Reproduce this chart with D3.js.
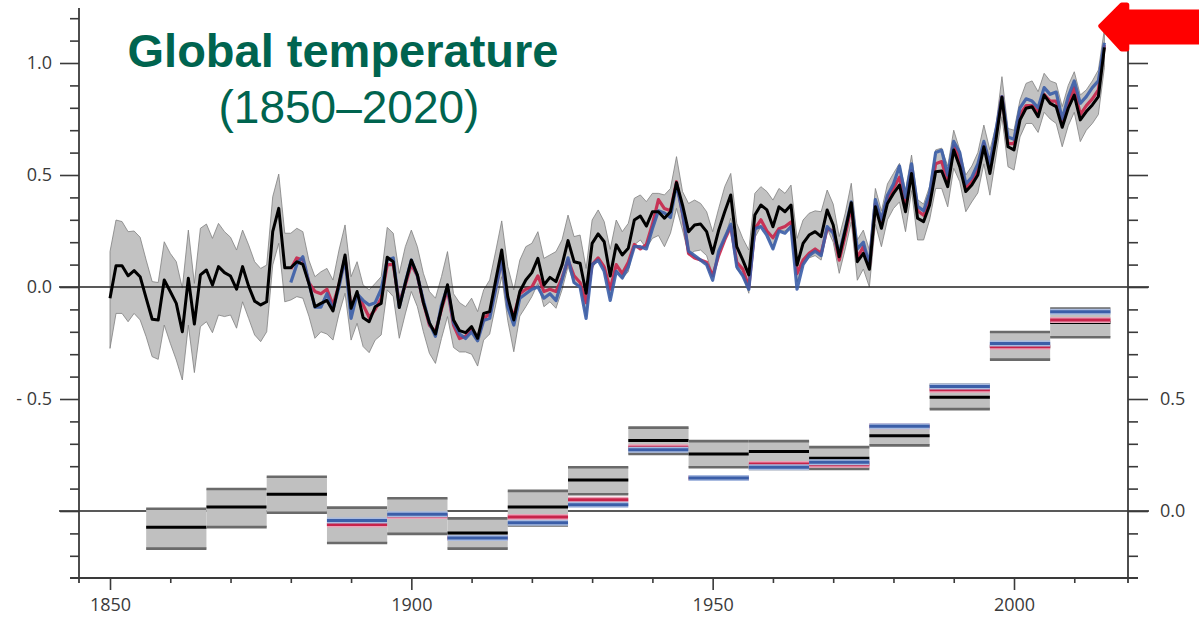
<!DOCTYPE html>
<html>
<head>
<meta charset="utf-8">
<script src="https://cdnjs.cloudflare.com/ajax/libs/d3/7.8.5/d3.min.js"></script>
<style>
body { margin: 0; background: #fff; }
svg { display: block; }
.axis text { font-family: "Open Sans", sans-serif; font-size: 18px; fill: #3a3a3a; }
.axis line { stroke: #3a3a3a; stroke-width: 1.6; }
</style>
</head>
<body>
<svg id="chart" width="1199" height="619"></svg>
<script>
// annual anomaly (black record) from 1850, one value per year
var firstYear = 1850;
var hadcrut = [
  -0.05, 0.095, 0.095, 0.05, 0.073, 0.046, -0.05, -0.144, -0.147, 0.031,
  -0.02, -0.073, -0.2, 0.039, -0.165, 0.054, 0.076, 0.009, 0.091, 0.064,
  0.049, -0.01, 0.091, 0.004, -0.063, -0.08, -0.066, 0.247, 0.351, 0.086,
  0.086, 0.113, 0.101, 0.016, -0.088, -0.073, -0.06, -0.107, 0.016, 0.143,
  -0.095, -0.02, -0.137, -0.155, -0.088, -0.073, 0.133, 0.113, -0.092, 0.017,
  0.12, 0.054, -0.07, -0.16, -0.21, -0.094, 0.01, -0.147, -0.195, -0.204,
  -0.177, -0.229, -0.118, -0.11, 0.03, 0.165, -0.043, -0.147, -0.02, 0.031,
  0.064, 0.128, 0.009, 0.043, 0.024, 0.098, 0.207, 0.113, 0.106, -0.028,
  0.195, 0.237, 0.202, 0.049, 0.188, 0.143, 0.173, 0.299, 0.317, 0.272,
  0.336, 0.336, 0.307, 0.336, 0.466, 0.366, 0.247, 0.277, 0.281, 0.247,
  0.15, 0.254, 0.336, 0.411, 0.18, 0.12, 0.054, 0.321, 0.366, 0.344,
  0.269, 0.358, 0.336, 0.366, 0.098, 0.195, 0.232, 0.247, 0.225, 0.344,
  0.277, 0.135, 0.254, 0.376, 0.113, 0.15, 0.079, 0.358, 0.262, 0.373,
  0.418, 0.455, 0.336, 0.507, 0.307, 0.292, 0.366, 0.515, 0.518, 0.448,
  0.612, 0.537, 0.426, 0.455, 0.5, 0.626, 0.507, 0.656, 0.847, 0.626,
  0.612, 0.746, 0.798, 0.805, 0.76, 0.857, 0.82, 0.805, 0.713, 0.798,
  0.857, 0.746, 0.783, 0.813, 0.85, 1.07
];
// uncertainty range of the black record
var hadcrutHi = [
  0.158, 0.299, 0.292, 0.247, 0.25, 0.222, 0.12, 0.024, 0.02, 0.202,
  0.15, 0.113, -0.005, 0.254, 0.016, 0.262, 0.281, 0.217, 0.284, 0.247,
  0.222, 0.165, 0.254, 0.188, 0.113, 0.083, 0.098, 0.403, 0.504, 0.24,
  0.24, 0.262, 0.247, 0.12, 0.046, 0.068, 0.083, 0.031, 0.165, 0.277,
  0.046, 0.113, 0.009, -0.013, 0.016, 0.046, 0.266, 0.24, 0.061, 0.18,
  0.254, 0.18, 0.061, -0.02, -0.05, 0.046, 0.158, -0.03, -0.07, -0.088,
  -0.05, -0.11, -0.013, 0.031, 0.16, 0.295, 0.091, -0.013, 0.12, 0.18,
  0.195, 0.247, 0.128, 0.143, 0.158, 0.21, 0.321, 0.225, 0.232, 0.083,
  0.299, 0.344, 0.292, 0.168, 0.299, 0.247, 0.284, 0.396, 0.411, 0.381,
  0.418, 0.418, 0.411, 0.44, 0.582, 0.426, 0.373, 0.388, 0.373, 0.336,
  0.247, 0.351, 0.448, 0.507, 0.284, 0.217, 0.165, 0.418, 0.448, 0.426,
  0.388, 0.44, 0.418, 0.455, 0.217, 0.299, 0.329, 0.34, 0.336, 0.433,
  0.37, 0.225, 0.33, 0.463, 0.21, 0.254, 0.165, 0.44, 0.34, 0.46,
  0.507, 0.552, 0.433, 0.589, 0.39, 0.37, 0.45, 0.612, 0.62, 0.54,
  0.7, 0.612, 0.5, 0.54, 0.6, 0.723, 0.612, 0.72, 0.939, 0.708,
  0.7, 0.835, 0.909, 0.92, 0.872, 0.954, 0.92, 0.91, 0.805, 0.9,
  0.961, 0.857, 0.88, 0.92, 0.969, 1.15
];
var hadcrutLo = [
  -0.274, -0.118, -0.118, -0.155, -0.118, -0.147, -0.222, -0.311, -0.323, -0.17,
  -0.251, -0.326, -0.415, -0.17, -0.382, -0.177, -0.155, -0.204, -0.125, -0.132,
  -0.125, -0.184, -0.066, -0.14, -0.214, -0.244, -0.2, 0.098, 0.195, -0.066,
  -0.058, -0.043, -0.05, -0.13, -0.229, -0.2, -0.21, -0.237, -0.12, -0.028,
  -0.237, -0.162, -0.266, -0.293, -0.237, -0.214, -0.013, -0.043, -0.229, -0.12,
  -0.02, -0.088, -0.2, -0.296, -0.341, -0.23, -0.132, -0.27, -0.29, -0.29,
  -0.3, -0.353, -0.237, -0.21, -0.08, 0.046, -0.15, -0.289, -0.13, -0.088,
  -0.043, 0.016, -0.088, -0.066, -0.095, -0.013, 0.091, 0.016, 0.001, -0.132,
  0.083, 0.128, 0.098, -0.05, 0.076, 0.039, 0.068, 0.188, 0.21, 0.173,
  0.217, 0.23, 0.18, 0.24, 0.351, 0.254, 0.143, 0.16, 0.165, 0.14,
  0.054, 0.15, 0.22, 0.307, 0.08, 0.05, -0.028, 0.22, 0.27, 0.25,
  0.17, 0.25, 0.25, 0.27, 0.024, 0.1, 0.13, 0.14, 0.12, 0.26,
  0.2, 0.061, 0.17, 0.29, 0.03, 0.08, 0.0, 0.28, 0.18, 0.3,
  0.35, 0.38, 0.247, 0.43, 0.21, 0.21, 0.3, 0.44, 0.44, 0.358,
  0.53, 0.47, 0.336, 0.38, 0.42, 0.55, 0.41, 0.58, 0.76, 0.537,
  0.522, 0.67, 0.73, 0.73, 0.69, 0.78, 0.75, 0.73, 0.626, 0.72,
  0.78, 0.649, 0.7, 0.73, 0.77, 0.98
];
// the red and blue records start in 1880
var otherStart = 1880;
var redSeries = [
  0.08, 0.13, 0.12, 0.02, -0.02, -0.03, -0.01, -0.08, 0.01, 0.13,
  -0.095, -0.03, -0.08, -0.135, -0.1, -0.05, 0.1, 0.1, -0.07, 0.01,
  0.1, 0.05, -0.07, -0.17, -0.2, -0.1, -0.01, -0.17, -0.23, -0.22,
  -0.19, -0.23, -0.14, -0.12, 0.0, 0.12, -0.07, -0.13, -0.03, -0.01,
  0.0, 0.05, -0.02, -0.01, -0.02, 0.04, 0.12, 0.05, 0.02, -0.07,
  0.1, 0.13, 0.09, -0.01, 0.1, 0.06, 0.11, 0.19, 0.17, 0.19,
  0.28, 0.39, 0.35, 0.34, 0.47, 0.33, 0.15, 0.13, 0.12, 0.11,
  0.05, 0.14, 0.21, 0.27, 0.11, 0.08, 0.0, 0.26, 0.3, 0.25,
  0.22, 0.26, 0.27, 0.29, 0.06, 0.12, 0.15, 0.17, 0.15, 0.26,
  0.25, 0.12, 0.23, 0.36, 0.13, 0.18, 0.09, 0.37, 0.29, 0.4,
  0.44, 0.49, 0.37, 0.52, 0.34, 0.32, 0.39, 0.55, 0.56, 0.47,
  0.63, 0.57, 0.44, 0.47, 0.52, 0.64, 0.54, 0.68, 0.85, 0.64,
  0.64, 0.77, 0.81, 0.81, 0.78, 0.86, 0.83, 0.83, 0.73, 0.82,
  0.89, 0.77, 0.81, 0.84, 0.88, 1.08
];
var blueSeries = [
  0.02, 0.1, 0.135, 0.02, -0.09, -0.09, -0.03, -0.1, 0.0, 0.13,
  -0.14, -0.03, -0.06, -0.08, -0.07, -0.01, 0.12, 0.13, -0.09, 0.02,
  0.12, 0.05, -0.06, -0.16, -0.22, -0.08, 0.0, -0.16, -0.21, -0.23,
  -0.2, -0.24, -0.15, -0.14, -0.01, 0.12, -0.09, -0.17, -0.05, -0.03,
  -0.01, 0.0, -0.05, -0.03, -0.06, 0.03, 0.13, 0.02, 0.0, -0.14,
  0.1, 0.12, 0.07, -0.06, 0.07, 0.04, 0.09, 0.18, 0.18, 0.17,
  0.26, 0.34, 0.33, 0.31, 0.46, 0.33, 0.16, 0.14, 0.12, 0.1,
  0.03, 0.16, 0.22, 0.28, 0.09, 0.05, -0.01, 0.26, 0.27, 0.23,
  0.17, 0.25, 0.24, 0.27, -0.01, 0.1, 0.14, 0.16, 0.14, 0.27,
  0.24, 0.15, 0.26, 0.38, 0.17, 0.2, 0.1, 0.39, 0.3, 0.41,
  0.46, 0.54, 0.4, 0.55, 0.36, 0.34, 0.42, 0.6, 0.61, 0.5,
  0.65, 0.6, 0.46, 0.49, 0.55, 0.65, 0.55, 0.7, 0.85, 0.67,
  0.66, 0.8, 0.84, 0.83, 0.8, 0.89, 0.86, 0.87, 0.75, 0.85,
  0.92, 0.82, 0.85, 0.89, 0.92, 1.09
];

// decadal means, read against the right-hand axis
var decadeStart = [1856, 1866, 1876, 1886, 1896, 1906, 1916, 1926, 1936, 1946, 1956, 1966, 1976, 1986, 1996, 2006];
var decBlack = [-0.072, 0.018, 0.075, -0.06, -0.02, -0.098, 0.018, 0.138, 0.315, 0.255, 0.266, 0.236, 0.336, 0.508, 0.733, 0.841];
var decHi    = [0.01, 0.098, 0.153, 0.015, 0.057, -0.033, 0.09, 0.195, 0.372, 0.312, 0.312, 0.285, 0.378, 0.563, 0.799, 0.904];
var decLo    = [-0.168, -0.072, -0.008, -0.143, -0.102, -0.168, -0.064, 0.075, 0.255, 0.195, 0.188, 0.188, 0.293, 0.455, 0.676, 0.776];
var decRed   = [null, null, null, -0.06, -0.022, -0.12, -0.027, 0.05, 0.285, 0.147, 0.21, 0.207, 0.378, 0.541, 0.733, 0.853];
var decBlue  = [null, null, null, -0.042, -0.015, -0.12, -0.053, 0.028, 0.273, 0.147, 0.195, 0.218, 0.378, 0.556, 0.748, 0.889];

// axis ticks and labels
var yearTicks = [1850, 1860, 1870, 1880, 1890, 1900, 1910, 1920, 1930, 1940, 1950, 1960, 1970, 1980, 1990, 2000, 2010];
var yearLabels = [1850, 1900, 1950, 2000];
var leftTicks = [1.2, 1.1, 1.0, 0.9, 0.8, 0.7, 0.6, 0.5, 0.4, 0.3, 0.2, 0.1, 0, -0.1, -0.2, -0.3, -0.4, -0.5, -0.6, -0.7, -0.8, -0.9, -1.0, -1.1, -1.2];
var leftLabels = {"10": "1.0", "5": "0.5", "0": "0.0", "-5": "- 0.5"};
var rightTicks = [2.0, 1.9, 1.8, 1.7, 1.6, 1.5, 1.4, 1.3, 1.2, 1.1, 1.0, 0.9, 0.8, 0.7, 0.6, 0.5, 0.4, 0.3, 0.2, 0.1, 0, -0.1, -0.2];
var rightLabels = {"5": "0.5", "0": "0.0"};

var colBlack = "#000", colRed = "#c8234a", colBlue = "#3b5ea8";
var colRedHalo = "#eba3b8", colBlueHalo = "#a9bbe0";

var svg = d3.select("#chart");
svg.append("rect").attr("width", 1199).attr("height", 619).attr("fill", "#fff");

var x = d3.scaleLinear().domain([1850, 2000]).range([110, 1014]);
var y = d3.scaleLinear().domain([0, 1]).range([287, 63]);
var yR = d3.scaleLinear().domain([0, 1]).range([y(-1), y(0)]);

var annual = hadcrut.map(function(v, i) {
    return {year: firstYear + i, v: v, hi: hadcrutHi[i], lo: hadcrutLo[i]};
});
var redData = redSeries.map(function(v, i) { return {year: otherStart + i, v: v}; });
var blueData = blueSeries.map(function(v, i) { return {year: otherStart + i, v: v}; });

// uncertainty band
var band = d3.area()
    .x(function(d) { return x(d.year); })
    .y0(function(d) { return y(d.lo); })
    .y1(function(d) { return y(d.hi); });
svg.append("path").datum(annual).attr("d", band)
    .attr("fill", "#c2c2c2").attr("stroke", "#808080").attr("stroke-width", 0.8);

// zero lines for both panels
[y(0), yR(0)].forEach(function(yy) {
    svg.append("line").attr("x1", 59).attr("x2", 1149).attr("y1", yy).attr("y2", yy)
        .attr("stroke", "#222").attr("stroke-width", 1.4);
});

var line = d3.line().x(function(d) { return x(d.year); }).y(function(d) { return y(d.v); });
svg.append("path").datum(redData).attr("d", line).attr("fill", "none")
    .attr("stroke", colRed).attr("stroke-width", 3.2).attr("stroke-opacity", 0.9).attr("stroke-linejoin", "round");
svg.append("path").datum(blueData).attr("d", line).attr("fill", "none")
    .attr("stroke", colBlue).attr("stroke-width", 3.2).attr("stroke-opacity", 0.9).attr("stroke-linejoin", "round");
svg.append("path").datum(annual).attr("d", line).attr("fill", "none")
    .attr("stroke", colBlack).attr("stroke-width", 3).attr("stroke-linejoin", "round");

// decadal boxes
var decades = decadeStart.map(function(s, i) {
    return {s: s, e: s + 10, m: decBlack[i], hi: decHi[i], lo: decLo[i], r: decRed[i], b: decBlue[i]};
});
var dg = svg.append("g").selectAll("g").data(decades).enter().append("g");
dg.append("rect")
    .attr("x", function(d) { return x(d.s); })
    .attr("width", function(d) { return x(d.e) - x(d.s); })
    .attr("y", function(d) { return yR(d.hi); })
    .attr("height", function(d) { return yR(d.lo) - yR(d.hi); })
    .attr("fill", "#c0c0c0");
function hline(sel, key, color, w) {
    sel.filter(function(d) { return d[key] != null; }).append("line")
        .attr("x1", function(d) { return x(d.s); })
        .attr("x2", function(d) { return x(d.e); })
        .attr("y1", function(d) { return yR(d[key]); })
        .attr("y2", function(d) { return yR(d[key]); })
        .attr("stroke", color).attr("stroke-width", w);
}
hline(dg, "hi", "#6a6a6a", 2.6);
hline(dg, "lo", "#6a6a6a", 2.6);
hline(dg, "m", colBlack, 3);
hline(dg, "r", colRedHalo, 6);
hline(dg, "r", colRed, 3);
hline(dg, "b", colBlueHalo, 6);
hline(dg, "b", colBlue, 3);

// left axis
var gl = svg.append("g").attr("class", "axis").attr("transform", "translate(79,0)")
    .call(d3.axisLeft(y).tickValues(leftTicks).tickSize(9).tickPadding(18)
        .tickFormat(function(d) { return leftLabels[Math.round(d * 10)] || ""; }));
gl.select(".domain").remove();
gl.selectAll(".tick line").attr("x2", function(d) { return Math.round(d * 10) % 5 === 0 ? -19 : -9; });

// right axis
var gr = svg.append("g").attr("class", "axis").attr("transform", "translate(1128,0)")
    .call(d3.axisRight(yR).tickValues(rightTicks).tickSize(10).tickPadding(22)
        .tickFormat(function(d) { return rightLabels[Math.round(d * 10)] || ""; }));
gr.select(".domain").remove();
gr.selectAll(".tick line").attr("x2", function(d) { return Math.round(d * 10) % 5 === 0 ? 20 : 10; });

// bottom axis
var gb = svg.append("g").attr("class", "axis").attr("transform", "translate(0,578)")
    .call(d3.axisBottom(x).tickValues(yearTicks).tickSize(5).tickPadding(15)
        .tickFormat(function(d) { return yearLabels.indexOf(d) >= 0 ? String(d) : ""; }));
gb.select(".domain").remove();
gb.selectAll(".tick line").attr("y2", function(d) { return yearLabels.indexOf(d) >= 0 ? 12 : 5; });

// frame lines
var frame = [[79, 8, 79, 583], [1128, 50, 1128, 583], [70, 578, 1138, 578]];
frame.forEach(function(f) {
    svg.append("line").attr("x1", f[0]).attr("y1", f[1]).attr("x2", f[2]).attr("y2", f[3])
        .attr("stroke", "#3a3a3a").attr("stroke-width", 1.8);
});

// title
svg.append("text").attr("x", 343).attr("y", 67).attr("text-anchor", "middle")
    .style("font-family", "'Liberation Sans', Arial, sans-serif").style("font-size", "47px")
    .style("font-weight", "bold").style("fill", "#00644f").text("Global temperature");
svg.append("text").attr("x", 349).attr("y", 123).attr("text-anchor", "middle")
    .style("font-family", "'Liberation Sans', Arial, sans-serif").style("font-size", "46px")
    .style("fill", "#00644f").text("(1850\u20132020)");

// red arrow pointing at the latest year
var tipX = x(2014.4), tipY = y(1.165);
var arrow = [[0, 0], [21, -21], [26, -21], [26, -14], [99, -14], [99, 16], [26, 16], [26, 23], [21, 23]];
svg.append("path")
    .attr("d", "M" + arrow.map(function(p) { return (tipX + p[0]) + "," + (tipY + p[1]); }).join("L") + "Z")
    .attr("fill", "#ff0000").attr("stroke", "#ff0000").attr("stroke-width", 5).attr("stroke-linejoin", "round");
</script>
</body>
</html>
